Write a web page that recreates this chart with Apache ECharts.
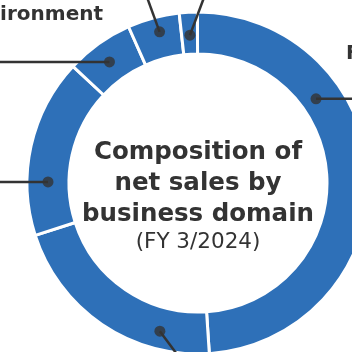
<!DOCTYPE html>
<html>
<head>
<meta charset="utf-8">
<title>Composition of net sales by business domain</title>
<script src="https://cdn.jsdelivr.net/npm/echarts@6/dist/echarts.min.js"></script>
<style>
    html, body { margin: 0; padding: 0; background: #fff; }
    #chart { width: 352px; height: 352px; }
</style>
</head>
<body>
<div id="chart"></div>
<script>
// share of net sales (%), clockwise from the top
var domains = ['Functional Materials', 'Industrial Products', 'Electronics', 'Environment', 'Healthcare', 'Others'];
var shares = [49.0, 21.1, 16.9, 6.4, 4.9, 1.7];

// leader-line dots: where inside each slice (0..1 of its span) and at what ring radius (px)
var dotFrac = [0.31, 0.24, 0.30, 0.47, 0.55, 0.52];
var dotRadius = [145, 153, 150, 150, 156, 148];
// leader-line direction/length from the dot, and where each label sits
var leader = [[60, 0], [23, 31], [-70, 0], [-130, 0], [-16, -44], [18, -48]];
var labelPos = [[346, 54], [190, 372], [-20, 183], [103, 15], [140, -24], [212, -24]];
var labelAlign = ['left', 'left', 'right', 'right', 'right', 'left'];

var CX = 198, CY = 183, R_IN = 129, R_OUT = 171, START = 90.2;
var total = shares.reduce(function (a, b) { return a + b; }, 0);

// dot positions in polar data units: [radius, cumulative share]
var dots = [];
var acc = 0;
shares.forEach(function (v, i) {
    dots.push([dotRadius[i], acc + v * dotFrac[i]]);
    acc += v;
});

function dotPixel(i) {
    var a = (90 - START + dots[i][1] / total * 360) * Math.PI / 180;
    return [CX + dots[i][0] * Math.sin(a), CY - dots[i][0] * Math.cos(a)];
}

var pieData = domains.map(function (n, i) { return { name: n, value: shares[i] }; });

var chart = echarts.init(document.getElementById('chart'));

chart.setOption({
    animation: false,
    polar: { center: [CX, CY], radius: R_OUT },
    angleAxis: {
        type: 'value', min: 0, max: total, startAngle: START, clockwise: true,
        show: false, axisLine: { show: false }, splitLine: { show: false }
    },
    radiusAxis: { type: 'value', min: 0, max: R_OUT, show: false, splitLine: { show: false } },
    graphic: [
        {
            type: 'text', x: CX, y: 137, z: 10,
            style: {
                text: 'Composition of\nnet sales by\nbusiness domain',
                font: 'bold 24.5px "DejaVu Sans"', fill: '#333',
                align: 'center', verticalAlign: 'top', lineHeight: 31
            }
        },
        {
            type: 'text', x: CX, y: 242.5, z: 10,
            style: {
                text: '(FY 3/2024)',
                font: '21.5px "DejaVu Sans"', fill: '#333',
                align: 'center', verticalAlign: 'middle'
            }
        }
    ],
    series: [
        {
            // the ring itself
            type: 'pie',
            center: [CX, CY],
            radius: [R_IN, R_OUT],
            startAngle: START,
            clockwise: true,
            silent: true,
            z: 2,
            itemStyle: { color: '#2e70b8', borderColor: '#fff', borderWidth: 3 },
            label: { show: false },
            labelLine: { show: false },
            data: pieData
        },
        {
            // same slices, transparent, only to carry labels and leader lines above the ring
            type: 'pie',
            center: [CX, CY],
            radius: [R_IN, R_OUT],
            startAngle: START,
            clockwise: true,
            avoidLabelOverlap: false,
            silent: true,
            z: 5,
            itemStyle: { color: 'rgba(0,0,0,0)', borderWidth: 0 },
            label: {
                show: true, position: 'outside', formatter: '{b}',
                fontFamily: 'DejaVu Sans', fontWeight: 'bold', fontSize: 20, color: '#333'
            },
            labelLine: { show: true, lineStyle: { color: '#333', width: 2.5 } },
            labelLayout: function (p) {
                var i = p.dataIndex;
                var d = dotPixel(i);
                var e = [d[0] + leader[i][0], d[1] + leader[i][1]];
                return {
                    x: labelPos[i][0], y: labelPos[i][1],
                    align: labelAlign[i], verticalAlign: 'middle',
                    labelLinePoints: [d, e, e]
                };
            },
            data: pieData
        },
        {
            type: 'scatter',
            coordinateSystem: 'polar',
            silent: true,
            z: 10,
            symbolSize: 11,
            itemStyle: { color: '#333' },
            data: dots
        }
    ]
});
</script>
</body>
</html>
